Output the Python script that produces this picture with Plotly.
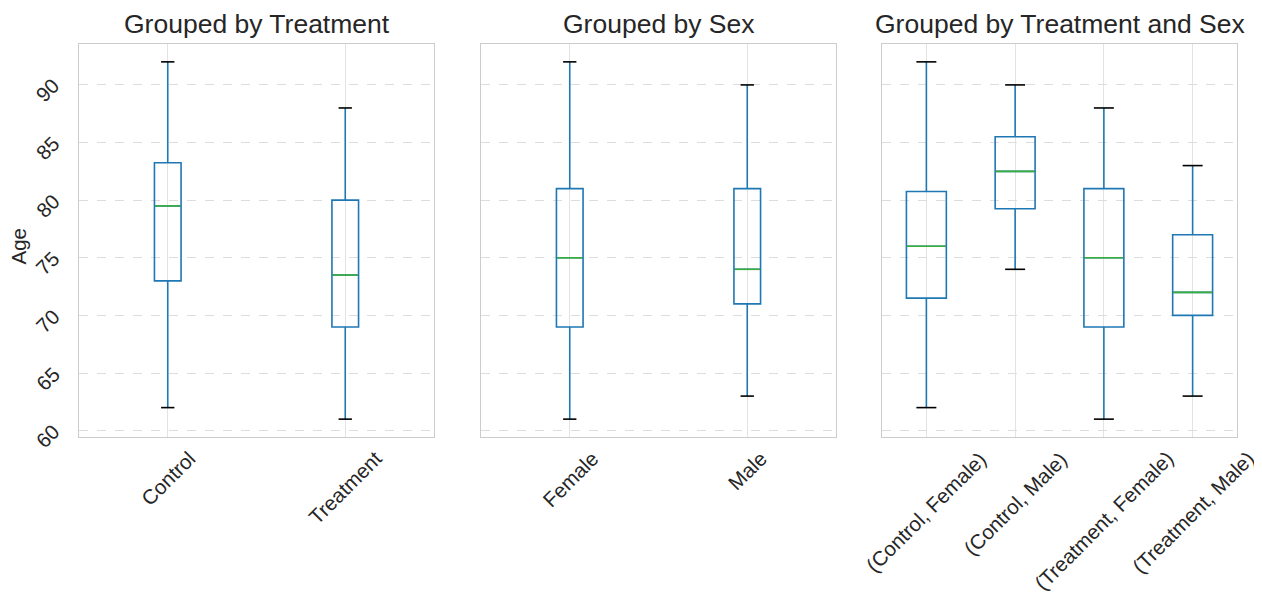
import plotly.graph_objects as go

# ---- data ----
treat_labels = ["Control", "Treatment"]
treat_lower = [62, 61]
treat_q1 = [73.0, 69.0]
treat_median = [79.5, 73.5]
treat_q3 = [83.25, 80.0]
treat_upper = [92, 88]

sex_labels = ["Female", "Male"]
sex_lower = [61, 63]
sex_q1 = [69.0, 71.0]
sex_median = [75.0, 74.0]
sex_q3 = [81.0, 81.0]
sex_upper = [92, 90]

both_labels = ["(Control, Female)", "(Control, Male)", "(Treatment, Female)", "(Treatment, Male)"]
both_lower = [62, 74, 61, 63]
both_q1 = [71.5, 79.25, 69.0, 70.0]
both_median = [76.0, 82.5, 75.0, 72.0]
both_q3 = [80.75, 85.5, 81.0, 77.0]
both_upper = [92, 90, 88, 83]

titles = ["Grouped by Treatment", "Grouped by Sex", "Grouped by Treatment and Sex"]
y_ticks = [60, 65, 70, 75, 80, 85, 90]

BLUE = "#1f77b4"
GREEN = "#3aae3a"
FONT = "Liberation Sans, Arial, sans-serif"
TEXT = "#262626"
TICK_SIZE = 20.5

panels = [
    (treat_labels, treat_lower, treat_q1, treat_median, treat_q3, treat_upper, 0.15),
    (sex_labels, sex_lower, sex_q1, sex_median, sex_q3, sex_upper, 0.15),
    (both_labels, both_lower, both_q1, both_median, both_q3, both_upper, 0.45),
]

total = 1158.0
domains = [[0, 355 / total], [402 / total, 757 / total], [803 / total, 1.0]]

fig = go.Figure()
annotations = []
for i, (labels, lo, q1, med, q3, up, w) in enumerate(panels):
    xa = "x" if i == 0 else f"x{i+1}"
    ya = "y" if i == 0 else f"y{i+1}"
    pos = list(range(1, len(labels) + 1))
    fig.add_trace(go.Box(
        x=pos, q1=q1, median=med, q3=q3, lowerfence=lo, upperfence=up,
        width=w, whiskerwidth=0, fillcolor="rgba(0,0,0,0)",
        line=dict(color=BLUE, width=1.6), boxpoints=False,
        xaxis=xa, yaxis=ya, showlegend=False, hoverinfo="skip",
    ))
    mx, my, cx, cy = [], [], [], []
    for p, m, l, u in zip(pos, med, lo, up):
        mx += [p - w / 2 + 0.004, p + w / 2 - 0.004, None]
        my += [m, m, None]
        cx += [p - w / 4, p + w / 4, None, p - w / 4, p + w / 4, None]
        cy += [l, l, None, u, u, None]
    fig.add_trace(go.Scatter(x=mx, y=my, mode="lines", line=dict(color=GREEN, width=1.6),
                             xaxis=xa, yaxis=ya, showlegend=False, hoverinfo="skip"))
    fig.add_trace(go.Scatter(x=cx, y=cy, mode="lines", line=dict(color="black", width=1.6),
                             xaxis=xa, yaxis=ya, showlegend=False, hoverinfo="skip"))

    xkey = "xaxis" if i == 0 else f"xaxis{i+1}"
    ykey = "yaxis" if i == 0 else f"yaxis{i+1}"
    fig.layout[xkey] = dict(
        domain=domains[i], anchor=ya, range=[0.5, len(labels) + 0.5],
        tickvals=pos, showticklabels=False,
        showgrid=True, gridcolor="#e3e3e3", gridwidth=1, zeroline=False,
        showline=True, mirror=True, linecolor="#cccccc", linewidth=1.3,
        ticks="",
    )
    fig.layout[ykey] = dict(
        domain=[0, 1], anchor=xa, range=[59.45, 93.55],
        tickvals=y_ticks, showticklabels=False,
        showgrid=True, gridcolor="#dddddd", gridwidth=1, griddash="dash", zeroline=False,
        showline=True, mirror=True, linecolor="#cccccc", linewidth=1.3,
        ticks="",
    )
    if i > 0:
        fig.layout[ykey].matches = "y"
    annotations.append(dict(
        text=titles[i], x=(domains[i][0] + domains[i][1]) / 2, y=1, xref="paper", yref="paper",
        xanchor="center", yanchor="bottom", yshift=3, showarrow=False,
        font=dict(size=26.5, color=TEXT, family=FONT),
    ))
    for p, lab in zip(pos, labels):
        annotations.append(dict(
            text=lab, x=p, y=0, xref=xa, yref="paper", xanchor="center", yanchor="top",
            yshift=-7, textangle=-45, showarrow=False,
            font=dict(size=TICK_SIZE, color=TEXT, family=FONT),
        ))

for t in y_ticks:
    annotations.append(dict(
        text=str(t), x=0, y=t, xref="paper", yref="y", xanchor="right", yanchor="middle",
        xshift=-12, yshift=-5, textangle=-45, showarrow=False,
        font=dict(size=TICK_SIZE, color=TEXT, family=FONT),
    ))
annotations.append(dict(
    text="Age", x=0, y=0.5, xref="paper", yref="paper", xanchor="center", yanchor="middle",
    xshift=-61, yshift=-6, textangle=-90, showarrow=False,
    font=dict(size=TICK_SIZE, color=TEXT, family=FONT),
))

fig.update_layout(
    width=1254, height=589,
    margin=dict(l=71, r=25, t=36, b=160),
    paper_bgcolor="white", plot_bgcolor="white",
    annotations=annotations,
    font=dict(family=FONT, color=TEXT),
)

fig.write_html("out.html")
